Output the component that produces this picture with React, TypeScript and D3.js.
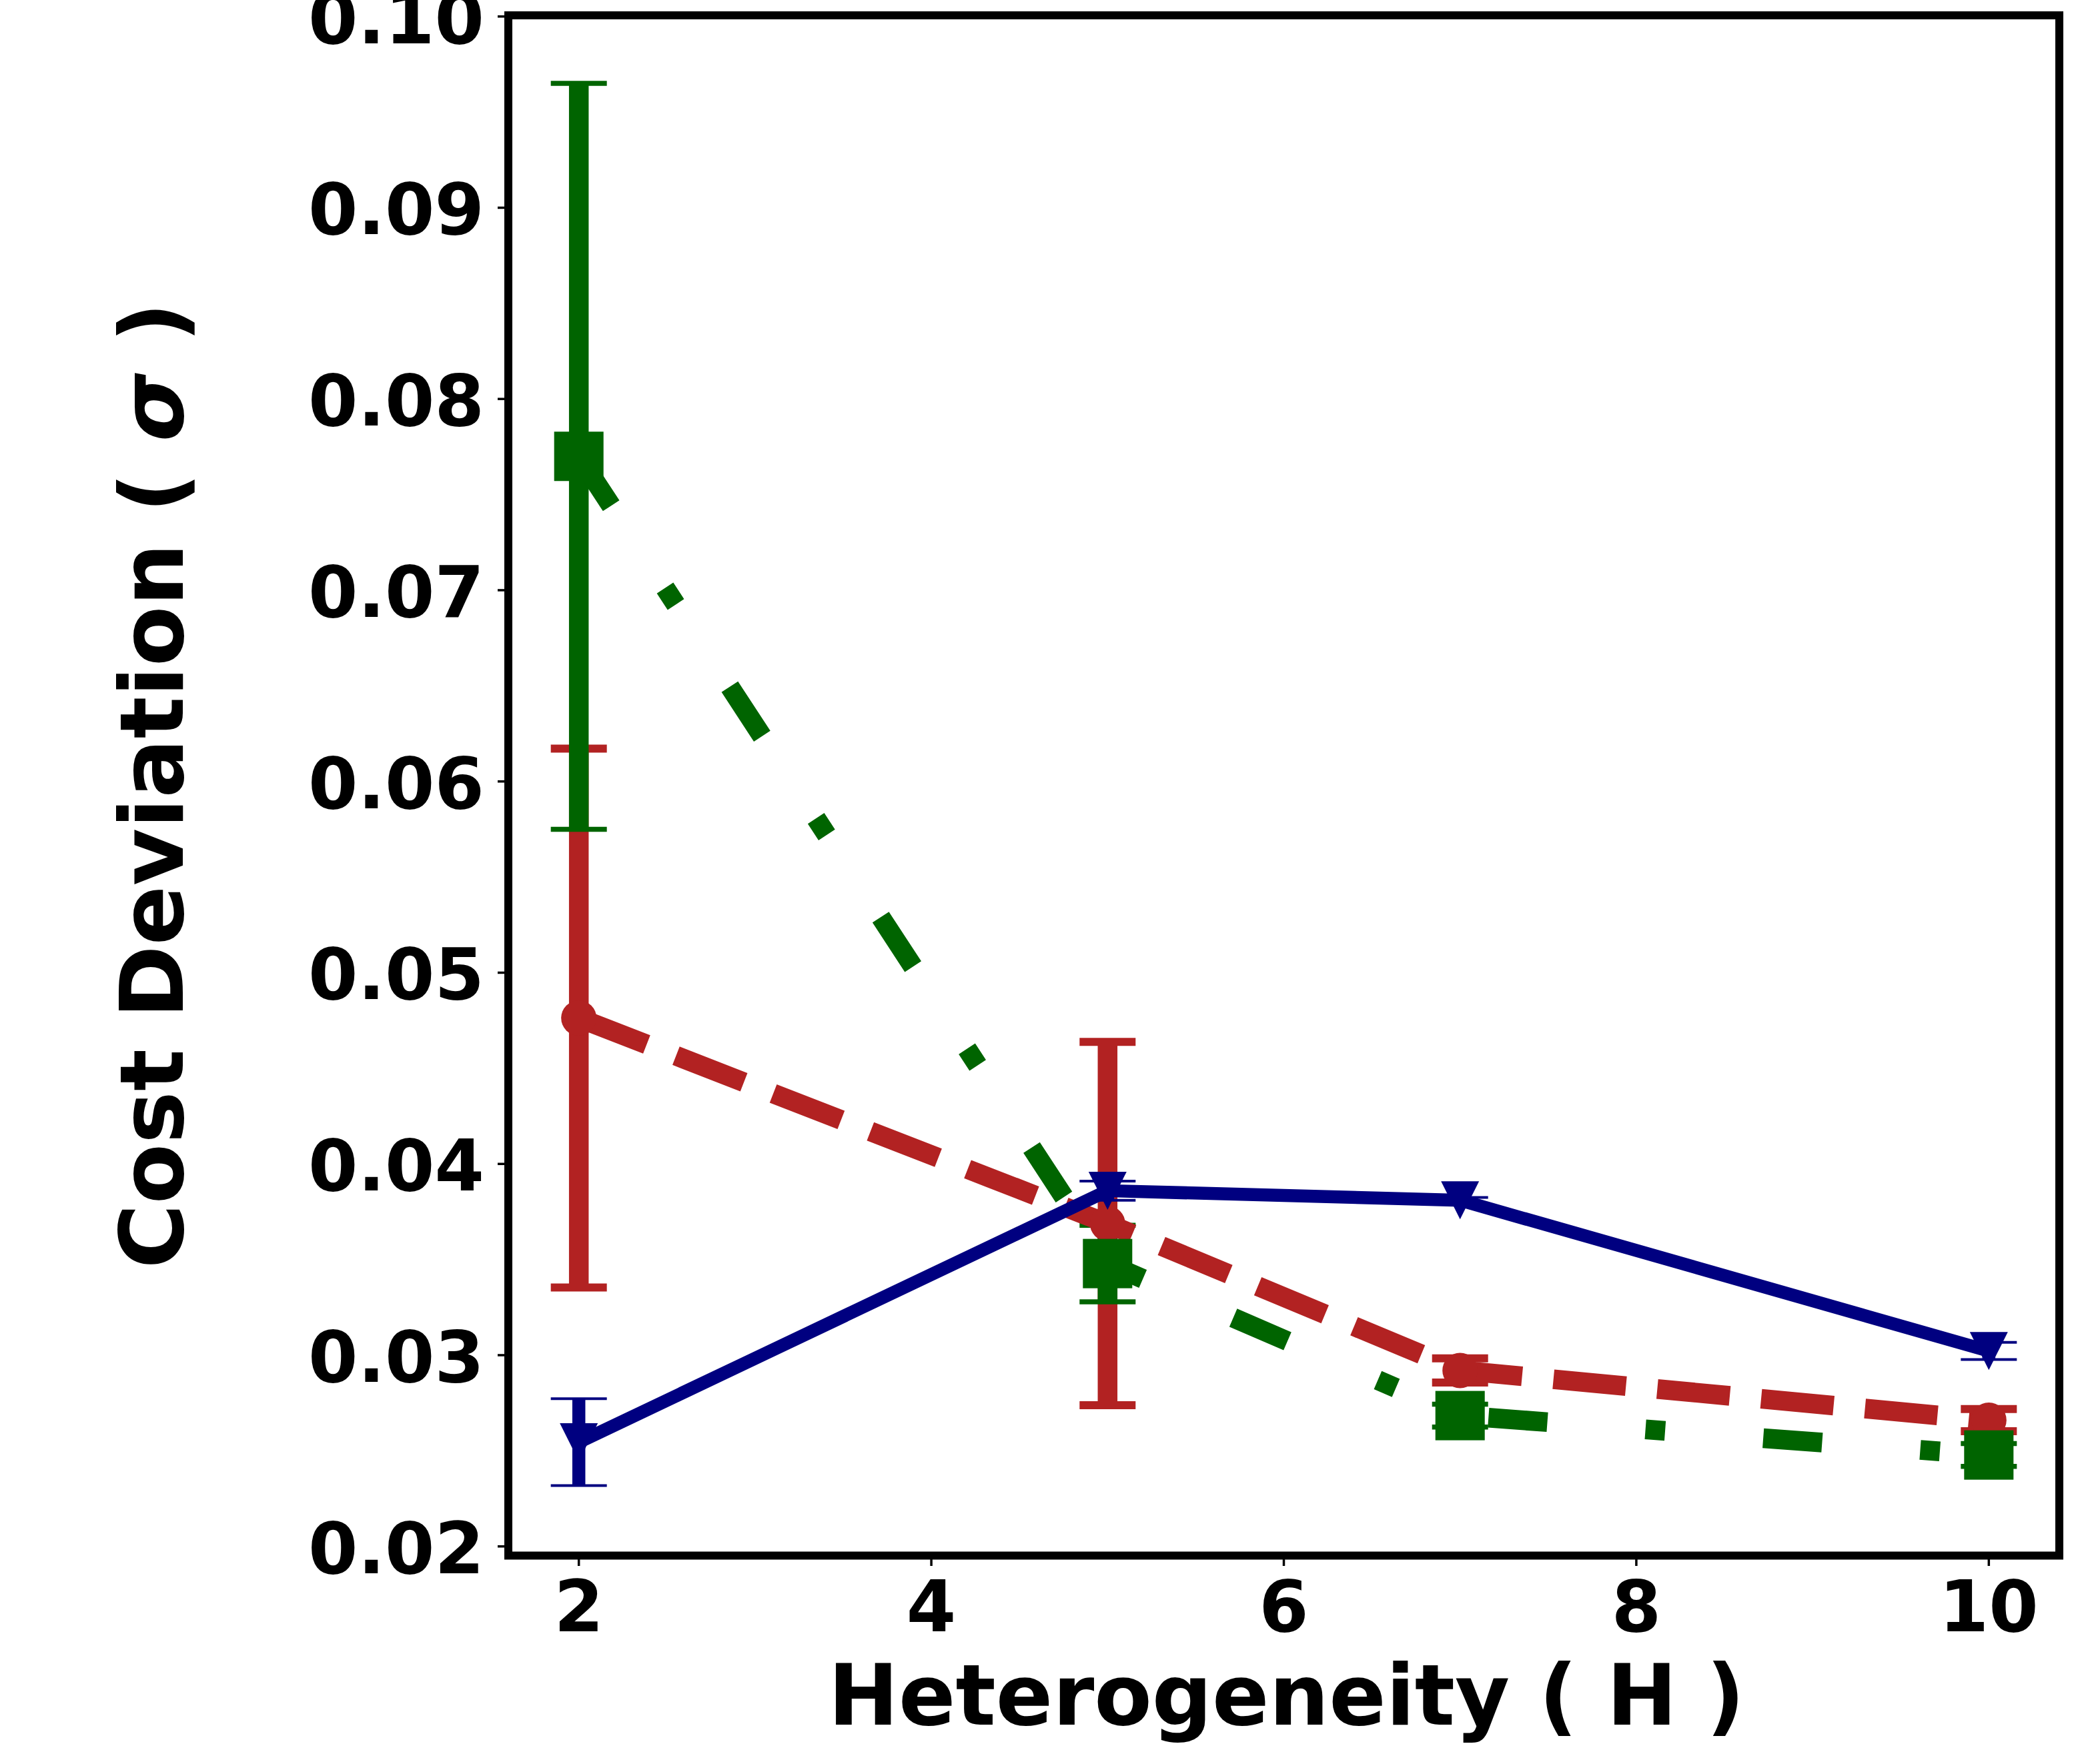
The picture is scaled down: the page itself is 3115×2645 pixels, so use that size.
import React from "react";
import * as d3 from "d3";

// ---- data ----
const hValues = [2, 5, 7, 10];
const blueMean = [0.02545, 0.0386, 0.0381, 0.03022];
const blueErr = [0.00227, 0.0005, 0.00015, 0.00045];
const redMean = [0.04763, 0.03688, 0.0292, 0.0266];
const redErr = [0.01409, 0.0095, 0.00063, 0.00058];
const greenMean = [0.0770, 0.03479, 0.02684, 0.02478];
const greenErr = [0.0195, 0.002, 0.0006, 0.0006];

const xTicks = [2, 4, 6, 8, 10];
const yTicks = [0.02, 0.03, 0.04, 0.05, 0.06, 0.07, 0.08, 0.09, 0.1];
const xDomain = [1.6, 10.4];
const yDomain = [0.01952, 0.10006];

const xLabel = "Heterogeneity ( H )";
const yLabelText = "Cost Deviation ( ";
const yLabelSym = "σ";
const yLabelEnd = " )";

const W = 3115;
const H = 2645;
const plot = { left: 762, right: 3087, top: 23, bottom: 2332.5 };

type Series = {
  name: string;
  mean: number[];
  err: number[];
  color: string;
  lw: number;
  capThick: number;
  dash: number[] | null;
  marker: "circle" | "square" | "tri";
  msize: number;
};

const series: Series[] = [
  { name: "red", mean: redMean, err: redErr, color: "#b22222", lw: 29.5, capThick: 12, dash: [3.7, 1.6], marker: "circle", msize: 53 },
  { name: "green", mean: greenMean, err: greenErr, color: "#006400", lw: 29.5, capThick: 7.5, dash: [3, 5, 1, 5], marker: "square", msize: 74 },
  { name: "blue", mean: blueMean, err: blueErr, color: "#000080", lw: 19.5, capThick: 4, dash: null, marker: "tri", msize: 57 },
];

const FONT = "'DejaVu Sans', 'Liberation Sans', sans-serif";

export default function App() {
  const x = d3.scaleLinear().domain(xDomain).range([plot.left, plot.right]);
  const y = d3.scaleLinear().domain(yDomain).range([plot.bottom, plot.top]);
  const capHalf = 42;
  const tickFs = 107;

  const line = d3
    .line<number>()
    .x((_, i) => x(hValues[i]))
    .y((d) => y(d));

  const marker = (s: Series, cx: number, cy: number, key: string) => {
    const m = s.msize;
    if (s.marker === "circle") return <circle key={key} cx={cx} cy={cy} r={m / 2} fill={s.color} />;
    if (s.marker === "square") return <rect key={key} x={cx - m / 2} y={cy - m / 2} width={m} height={m} fill={s.color} />;
    const p = d3.path();
    p.moveTo(cx - m / 2, cy - m / 2);
    p.lineTo(cx + m / 2, cy - m / 2);
    p.lineTo(cx, cy + m / 2);
    p.closePath();
    return <path key={key} d={p.toString()} fill={s.color} />;
  };

  return (
    <svg
      width={W}
      height={H}
      viewBox={`0 0 ${W} ${H}`}
      style={{ position: "absolute", left: 0, top: 0, display: "block", background: "#fff" }}
    >
      <rect x={0} y={0} width={W} height={H} fill="#fff" />
      {/* error bars */}
      {series.map((s) => (
        <g key={"err-" + s.name}>
          {hValues.map((h, i) => (
            <line
              key={"b" + i}
              x1={x(h)}
              x2={x(h)}
              y1={y(s.mean[i] - s.err[i])}
              y2={y(s.mean[i] + s.err[i])}
              stroke={s.color}
              strokeWidth={s.lw}
            />
          ))}
          {hValues.map((h, i) =>
            [s.mean[i] - s.err[i], s.mean[i] + s.err[i]].map((v, j) => (
              <line
                key={"c" + i + "-" + j}
                x1={x(h) - capHalf}
                x2={x(h) + capHalf}
                y1={y(v)}
                y2={y(v)}
                stroke={s.color}
                strokeWidth={s.capThick}
              />
            ))
          )}
        </g>
      ))}
      {/* data lines + markers */}
      {series.map((s) => (
        <g key={"line-" + s.name}>
          <path
            d={line(s.mean) || ""}
            fill="none"
            stroke={s.color}
            strokeWidth={s.lw}
            strokeLinejoin="round"
            strokeLinecap={s.dash ? "butt" : "square"}
            strokeDasharray={s.dash ? s.dash.map((d) => d * s.lw).join(" ") : undefined}
          />
          {hValues.map((h, i) => marker(s, x(h), y(s.mean[i]), "m" + i))}
        </g>
      ))}
      {/* ticks */}
      {yTicks.map((t) => (
        <g key={"yt" + t}>
          <line x1={plot.left - 16} x2={plot.left} y1={y(t)} y2={y(t)} stroke="#000" strokeWidth={3.5} />
          <text
            x={726}
            y={y(t) + 40}
            textAnchor="end"
            fontFamily={FONT}
            fontWeight="bold"
            fontSize={tickFs}
            fill="#000"
          >
            {t.toFixed(2)}
          </text>
        </g>
      ))}
      {xTicks.map((t) => (
        <g key={"xt" + t}>
          <line x1={x(t)} x2={x(t)} y1={plot.bottom} y2={plot.bottom + 15.5} stroke="#000" strokeWidth={3.5} />
          <text
            x={x(t)}
            y={2446}
            textAnchor="middle"
            fontFamily={FONT}
            fontWeight="bold"
            fontSize={tickFs}
            fill="#000"
          >
            {String(t)}
          </text>
        </g>
      ))}
      {/* spines */}
      <rect
        x={plot.left}
        y={plot.top}
        width={plot.right - plot.left}
        height={plot.bottom - plot.top}
        fill="none"
        stroke="#000"
        strokeWidth={12}
      />
      {/* axis labels */}
      <text
        x={(plot.left + plot.right) / 2 + 4}
        y={2586}
        textAnchor="middle"
        fontFamily={FONT}
        fontWeight="bold"
        fontSize={126}
        fill="#000"
      >
        {xLabel}
      </text>
      <text
        x={274}
        y={(plot.top + plot.bottom) / 2}
        transform={`rotate(-90, 274, ${(plot.top + plot.bottom) / 2})`}
        textAnchor="middle"
        fontFamily={FONT}
        fontWeight="bold"
        fontSize={132}
        fill="#000"
      >
        {yLabelText}
        <tspan fontStyle="italic">{yLabelSym}</tspan>
        {yLabelEnd}
      </text>
    </svg>
  );
}
